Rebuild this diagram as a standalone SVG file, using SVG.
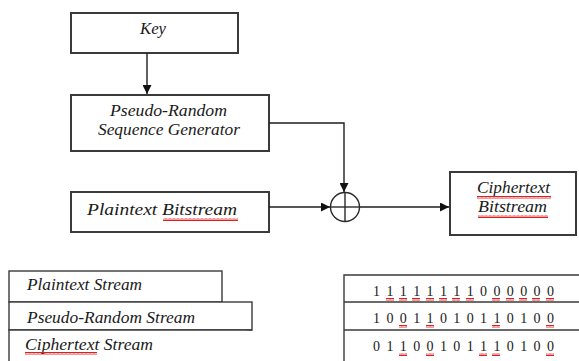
<svg xmlns="http://www.w3.org/2000/svg" width="579" height="361" viewBox="0 0 579 361">
  <style>
    .box { fill: #ffffff; stroke: #3a3a3a; stroke-width: 2; }
    .cell { fill: #ffffff; stroke: #3a3a3a; stroke-width: 1.4; }
    .lbl { font-family: "Liberation Serif", "Times New Roman", serif; font-style: italic; font-size: 16px; fill: #1a1a1a; }
    .bits { font-family: "Liberation Serif", "Times New Roman", serif; font-size: 14px; fill: #1a1a1a; }
    .wire { fill: none; stroke: #1e1e1e; stroke-width: 1.4; }
    .squig { fill: url(#wave); }
  </style>
  <defs>
    <marker id="arrow" viewBox="0 0 10 10" refX="10" refY="5" markerWidth="9" markerHeight="9" markerUnits="userSpaceOnUse" orient="auto">
      <path d="M0,0 L10,5 L0,10 z" fill="#111"/>
    </marker>
    <!-- red spell-check underline -->
    <pattern id="wave" width="4" height="3" patternUnits="userSpaceOnUse">
      <path d="M0,2.5 L1,0.5 L2,2.5 L3,0.5 L4,2.5" fill="none" stroke="#e02020" stroke-width="1"/>
    </pattern>
  </defs>

  <!-- block diagram -->
  <g id="key">
    <rect class="box" x="71" y="13" width="167" height="40"/>
    <text class="lbl" x="153" y="34" text-anchor="middle" textLength="26" lengthAdjust="spacingAndGlyphs">Key</text>
  </g>

  <g id="prsg">
    <rect class="box" x="71" y="95" width="198" height="56"/>
    <text class="lbl" x="168.5" y="116" text-anchor="middle" textLength="117" lengthAdjust="spacingAndGlyphs">Pseudo-Random</text>
    <text class="lbl" x="169" y="135" text-anchor="middle" textLength="142" lengthAdjust="spacingAndGlyphs">Sequence Generator</text>
  </g>

  <g id="plaintext">
    <rect class="box" x="71" y="192" width="198" height="40"/>
    <text class="lbl" x="87" y="215" textLength="150" lengthAdjust="spacingAndGlyphs">Plaintext Bitstream</text>
    <rect class="squig" x="163" y="218" width="75" height="3"/>
  </g>

  <g id="xor">
    <circle cx="345" cy="207" r="14.5" fill="#ffffff" stroke="#2a2a2a" stroke-width="1.4"/>
    <line x1="330.5" y1="207" x2="359.5" y2="207" stroke="#2a2a2a" stroke-width="1.4"/>
    <line x1="345" y1="192.5" x2="345" y2="221.5" stroke="#2a2a2a" stroke-width="1.4"/>
  </g>

  <g id="ciphertext">
    <rect class="box" x="450" y="172" width="126" height="63"/>
    <text class="lbl" x="513.5" y="193" text-anchor="middle" textLength="73" lengthAdjust="spacingAndGlyphs">Ciphertext</text>
    <text class="lbl" x="512.5" y="212" text-anchor="middle" textLength="69" lengthAdjust="spacingAndGlyphs">Bitstream</text>
    <rect class="squig" x="477" y="196" width="74" height="3"/>
    <rect class="squig" x="478" y="215" width="70" height="3"/>
  </g>

  <g id="connectors">
    <line class="wire" x1="147" y1="53" x2="147" y2="94" marker-end="url(#arrow)"/>
    <polyline class="wire" points="269,123 344,123 344,192" marker-end="url(#arrow)"/>
    <line class="wire" x1="269" y1="207" x2="330" y2="207" marker-end="url(#arrow)"/>
    <line class="wire" x1="360" y1="207" x2="449" y2="207" marker-end="url(#arrow)"/>
  </g>

  <!-- stream legend -->
  <g id="legend">
    <rect class="cell" x="9" y="271" width="213" height="31"/>
    <rect class="cell" x="9" y="302" width="243" height="28"/>
    <polyline class="cell" points="252,330 9,330 9,362" fill="none"/>
    <text class="lbl" x="27" y="290" textLength="115" lengthAdjust="spacingAndGlyphs">Plaintext Stream</text>
    <text class="lbl" x="27" y="323" textLength="168" lengthAdjust="spacingAndGlyphs">Pseudo-Random Stream</text>
    <text class="lbl" x="25" y="350" textLength="128" lengthAdjust="spacingAndGlyphs">Ciphertext Stream</text>
    <rect class="squig" x="25" y="352" width="72" height="3"/>
  </g>

  <!-- bit values -->
  <g id="bits">
    <polyline class="cell" points="580,275 344,275 344,362" fill="none"/>
    <line class="cell" x1="344" y1="302" x2="580" y2="302"/>
    <line class="cell" x1="344" y1="330" x2="580" y2="330"/>
    <text class="bits" x="373" y="296" textLength="181" lengthAdjust="spacing">1 1 1 1 1 1 1 1 0 0 0 0 0 0</text>
    <text class="bits" x="373" y="323" textLength="181" lengthAdjust="spacing">1 0 0 1 1 0 1 0 1 1 0 1 0 0</text>
    <text class="bits" x="373" y="351" textLength="181" lengthAdjust="spacing">0 1 1 0 0 1 0 1 1 1 0 1 0 0</text>
    <!-- row 1 underlines -->
    <rect class="squig" x="386" y="298" width="8" height="3"/>
    <rect class="squig" x="399" y="298" width="8" height="3"/>
    <rect class="squig" x="412" y="298" width="8" height="3"/>
    <rect class="squig" x="426" y="298" width="8" height="3"/>
    <rect class="squig" x="439" y="298" width="8" height="3"/>
    <rect class="squig" x="452" y="298" width="8" height="3"/>
    <rect class="squig" x="466" y="298" width="8" height="3"/>
    <rect class="squig" x="492" y="298" width="8" height="3"/>
    <rect class="squig" x="506" y="298" width="8" height="3"/>
    <rect class="squig" x="519" y="298" width="8" height="3"/>
    <rect class="squig" x="532" y="298" width="8" height="3"/>
    <rect class="squig" x="546" y="298" width="8" height="3"/>
    <!-- row 2 underlines -->
    <rect class="squig" x="399" y="325" width="8" height="3"/>
    <rect class="squig" x="426" y="325" width="8" height="3"/>
    <rect class="squig" x="492" y="325" width="8" height="3"/>
    <rect class="squig" x="546" y="325" width="8" height="3"/>
    <!-- row 3 underlines -->
    <rect class="squig" x="399" y="353" width="8" height="3"/>
    <rect class="squig" x="426" y="353" width="8" height="3"/>
    <rect class="squig" x="479" y="353" width="8" height="3"/>
    <rect class="squig" x="492" y="353" width="8" height="3"/>
    <rect class="squig" x="546" y="353" width="8" height="3"/>
  </g>
</svg>
